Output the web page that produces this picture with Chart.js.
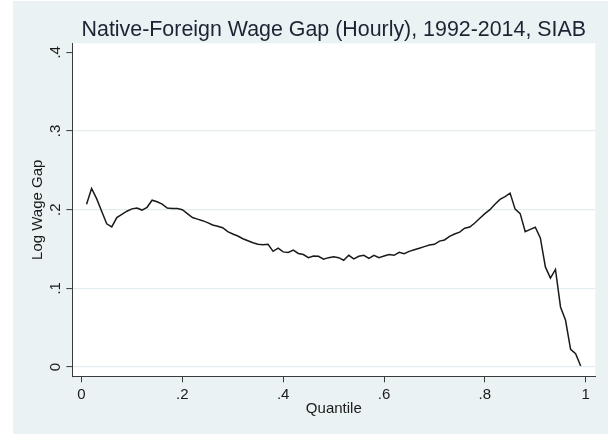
<!DOCTYPE html>
<html>
<head>
<meta charset="utf-8">
<script src="https://cdn.jsdelivr.net/npm/chart.js@4"></script>
<style>
  html, body { margin: 0; padding: 0; background: #ffffff; }
  #wrap { width: 608px; height: 435px; position: relative; }
</style>
</head>
<body>
<div id="wrap"><canvas id="c" width="608" height="435"></canvas></div>
<script>
// ---- data ----
const quantiles = [
  0.01,0.02,0.03,0.04,0.05,0.06,0.07,0.08,0.09,0.10,
  0.11,0.12,0.13,0.14,0.15,0.16,0.17,0.18,0.19,0.20,
  0.21,0.22,0.23,0.24,0.25,0.26,0.27,0.28,0.29,0.30,
  0.31,0.32,0.33,0.34,0.35,0.36,0.37,0.38,0.39,0.40,
  0.41,0.42,0.43,0.44,0.45,0.46,0.47,0.48,0.49,0.50,
  0.51,0.52,0.53,0.54,0.55,0.56,0.57,0.58,0.59,0.60,
  0.61,0.62,0.63,0.64,0.65,0.66,0.67,0.68,0.69,0.70,
  0.71,0.72,0.73,0.74,0.75,0.76,0.77,0.78,0.79,0.80,
  0.81,0.82,0.83,0.84,0.85,0.86,0.87,0.88,0.89,0.90,
  0.91,0.92,0.93,0.94,0.95,0.96,0.97,0.98,0.99
];
const wageGap = [
  0.207,0.227,0.214,0.198,0.182,0.178,0.190,0.194,0.198,0.201,
  0.202,0.1995,0.203,0.212,0.210,0.207,0.202,0.2015,0.2015,0.200,
  0.195,0.190,0.188,0.186,0.1835,0.1805,0.179,0.177,0.172,0.169,
  0.1665,0.163,0.1605,0.158,0.156,0.1555,0.156,0.147,0.151,0.1463,
  0.1455,0.1485,0.1443,0.143,0.139,0.141,0.1408,0.137,0.139,0.140,
  0.139,0.1357,0.142,0.1375,0.1408,0.142,0.138,0.142,0.139,0.141,
  0.143,0.142,0.1458,0.144,0.147,0.149,0.151,0.153,0.155,0.156,
  0.160,0.1615,0.166,0.169,0.1715,0.1765,0.178,0.183,0.189,0.195,
  0.200,0.207,0.213,0.2165,0.221,0.2006,0.195,0.172,0.175,0.1777,
  0.164,0.1272,0.113,0.124,0.0763,0.0594,0.0225,0.017,0.0013
];
const xTickValues = [0, 0.2, 0.4, 0.6, 0.8, 1];
const xTickLabels = ["0", ".2", ".4", ".6", ".8", "1"];
const yTickValues = [0, 0.1, 0.2, 0.3, 0.4];
const yTickLabels = ["0", ".1", ".2", ".3", ".4"];
const titleText = "Native-Foreign Wage Gap (Hourly), 1992-2014, SIAB";
const xTitle = "Quantile";
const yTitle = "Log Wage Gap";

// ---- styles ----
const FONT = "'Liberation Sans', Arial, sans-serif";
const BG = "#eaf2f3";
const GRID = "#e3ecef";
const AXIS = "#3a3a3a";
const TEXT = "#1a1a1a";

const points = quantiles.map((q, i) => ({ x: q, y: wageGap[i] }));

function labelFor(values, labels, v) {
  for (let i = 0; i < values.length; i++) {
    if (Math.abs(values[i] - v) < 1e-9) return labels[i];
  }
  return "";
}

const bgPlugin = {
  id: 'bgPlugin',
  beforeDraw(chart) {
    const ctx = chart.ctx;
    const a = chart.chartArea;
    ctx.save();
    ctx.fillStyle = '#ffffff';
    ctx.fillRect(0, 0, chart.width, chart.height);
    ctx.fillStyle = BG;
    ctx.fillRect(13, 1, chart.width - 13, chart.height - 2);
    ctx.fillStyle = '#ffffff';
    ctx.fillRect(a.left, a.top, a.right - a.left, a.bottom - a.top);
    ctx.restore();
  }
};

new Chart(document.getElementById('c'), {
  type: 'line',
  data: {
    datasets: [{
      data: points,
      borderColor: '#1a1a1a',
      borderWidth: 1.5,
      pointRadius: 0,
      tension: 0,
      fill: false
    }]
  },
  options: {
    responsive: false,
    animation: false,
    devicePixelRatio: 1,
    layout: { padding: { left: 0, right: 12.7, top: 0, bottom: 0 } },
    plugins: {
      legend: { display: false },
      tooltip: { enabled: false },
      title: {
        display: true,
        text: titleText,
        fullSize: false,
        color: '#1c2433',
        font: { family: FONT, size: 21.4, weight: 'normal', lineHeight: 1.2 },
        padding: { top: 17.5, bottom: 0.1 }
      }
    },
    scales: {
      x: {
        type: 'linear',
        min: -0.01825,
        max: 1.019,
        afterBuildTicks(scale) { scale.ticks = xTickValues.map(v => ({ value: v })); },
        afterFit(scale) { scale.height = 58.7; },
        border: { display: true, color: AXIS, width: 1 },
        grid: { drawOnChartArea: false, drawTicks: true, tickLength: 6, tickColor: AXIS, tickWidth: 1 },
        ticks: {
          padding: 4,
          maxRotation: 0,
          minRotation: 0,
          autoSkip: false,
          color: TEXT,
          font: { family: FONT, size: 15, lineHeight: 1.2 },
          callback: (v) => labelFor(xTickValues, xTickLabels, v)
        },
        title: {
          display: true,
          text: xTitle,
          color: TEXT,
          font: { family: FONT, size: 15, lineHeight: 1.2 },
          padding: { top: 0, bottom: 17 }
        }
      },
      y: {
        type: 'linear',
        min: -0.01183,
        max: 0.4115,
        afterBuildTicks(scale) { scale.ticks = yTickValues.map(v => ({ value: v })); },
        afterFit(scale) { scale.width = 72.3; },
        border: { display: true, color: AXIS, width: 1 },
        grid: {
          drawOnChartArea: true,
          drawTicks: true,
          tickLength: 6,
          tickColor: AXIS,
          tickWidth: 1,
          lineWidth: 1.2,
          color: (ctx) => (ctx.tick && Math.abs(ctx.tick.value - 0.4) < 1e-9) ? 'rgba(0,0,0,0)' : GRID
        },
        ticks: {
          padding: 4.5,
          minRotation: 90,
          maxRotation: 90,
          crossAlign: 'center',
          autoSkip: false,
          color: TEXT,
          font: { family: FONT, size: 15, lineHeight: 1.2 },
          callback: (v) => labelFor(yTickValues, yTickLabels, v)
        },
        title: {
          display: true,
          text: yTitle,
          color: TEXT,
          font: { family: FONT, size: 15, lineHeight: 1.2 },
          padding: { top: 29, bottom: 0 }
        }
      }
    }
  },
  plugins: [bgPlugin]
});
</script>
</body>
</html>
